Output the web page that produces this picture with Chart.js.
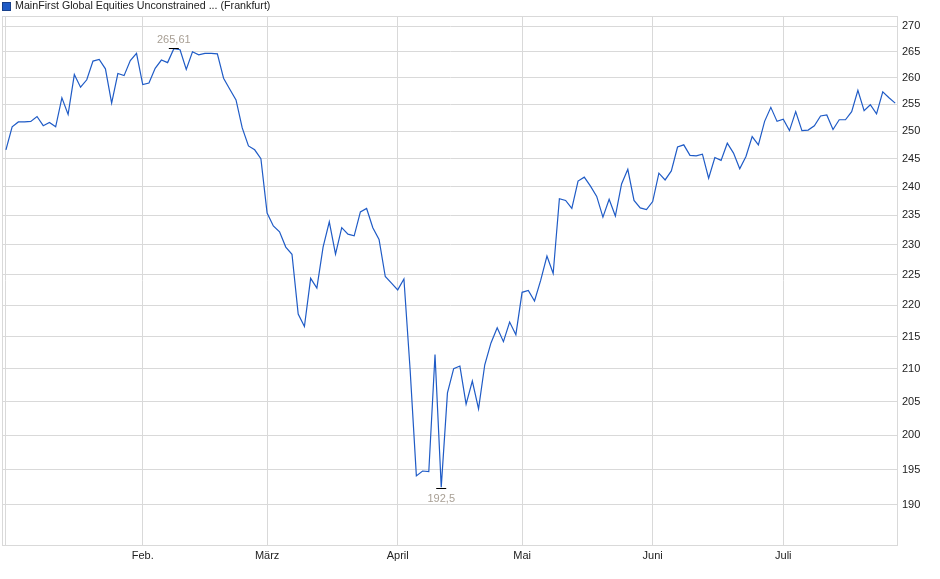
<!DOCTYPE html>
<html lang="de">
<head>
<meta charset="utf-8">
<title>MainFirst Global Equities Unconstrained (Frankfurt)</title>
<script src="https://cdn.jsdelivr.net/npm/chart.js@4.4.1/dist/chart.umd.min.js"></script>
<style>
    html, body { margin: 0; padding: 0; background: #fff; }
    #wrap { position: relative; width: 940px; height: 579px; }
</style>
</head>
<body>
<div id="wrap"><canvas id="priceChart"></canvas></div>
<script>
// Series name shown in the legend line
const seriesName = 'MainFirst Global Equities Unconstrained ... (Frankfurt)';

// Daily closing prices, one per trading day (2 Jan .. 25 Jul)
const prices = [
    246.6, 250.8, 251.7, 251.7, 251.8, 252.7, 251.0, 251.6, 250.8, 256.2,
    253.1, 260.6, 258.2, 259.6, 263.2, 263.5, 261.7, 255.2, 260.8, 260.4,
    263.3, 264.7, 258.7, 259.0, 261.8, 263.4, 262.9, 265.61, 265.4, 261.6,
    265.0, 264.4, 264.7, 264.7, 264.6, 259.9, 257.8, 255.8, 250.6, 247.3,
    246.6, 245.0, 235.4, 233.2, 232.2, 229.6, 228.4, 218.6, 216.6, 224.4,
    222.8, 229.6, 233.9, 228.4, 232.9, 231.8, 231.5, 235.6, 236.2, 232.9,
    230.9, 224.7, 223.6, 222.5, 224.3, 209.8, 194.1, 194.8, 194.7, 212.2,
    192.5, 206.3, 210.0, 210.4, 204.6, 208.1, 203.9, 210.6, 214.0, 216.4,
    214.2, 217.3, 215.3, 222.1, 222.4, 220.7, 224.1, 228.1, 225.2, 237.9,
    237.6, 236.2, 241.0, 241.7, 240.1, 238.3, 234.7, 237.8, 234.9, 240.5,
    243.1, 237.6, 236.3, 236.0, 237.4, 242.4, 241.2, 242.8, 247.1, 247.5,
    245.6, 245.5, 245.8, 241.5, 245.2, 244.7, 247.8, 246.0, 243.2, 245.4,
    249.0, 247.5, 251.8, 254.4, 251.8, 252.2, 250.1, 253.6, 250.1, 250.2,
    251.0, 252.8, 253.0, 250.3, 252.1, 252.1, 253.6, 257.6, 253.8, 254.9,
    253.2, 257.3, 256.2, 255.2
];

// First trading day of each month (index into prices) and its label
const monthStarts = [0, 22, 42, 63, 83, 104, 125];
const monthLabels = ['', 'Feb.', 'März', 'April', 'Mai', 'Juni', 'Juli'];

// Price ticks on the right axis
const priceTicks = [190, 195, 200, 205, 210, 215, 220, 225, 230, 235, 240, 245, 250, 255, 260, 265, 270];

const lineBlue = '#1f5bc6';
const gridGrey = '#d9d9d9';
const textDark = '#222222';
const markerText = '#a89f94';

Chart.defaults.font.family = '"Liberation Sans", Arial, Helvetica, sans-serif';
Chart.defaults.font.size = 11;
Chart.defaults.color = textDark;

// Frame around the plot, legend line on top, high/low markers
const chartDecor = {
    id: 'chartDecor',
    beforeDatasetsDraw(chart) {
        const { ctx, chartArea: a } = chart;
        ctx.save();
        ctx.strokeStyle = gridGrey;
        ctx.lineWidth = 1;
        ctx.strokeRect(Math.round(a.left) - 0.5, Math.round(a.top) + 0.5,
            Math.round(a.right - a.left), Math.round(a.bottom - a.top));
        ctx.restore();
    },
    afterDraw(chart) {
        const { ctx } = chart;
        const xs = chart.scales.x;
        const ys = chart.scales.y;

        // legend
        ctx.save();
        ctx.fillStyle = lineBlue;
        ctx.fillRect(3, 3, 7, 7);
        ctx.strokeStyle = '#173f8a';
        ctx.lineWidth = 1;
        ctx.strokeRect(2.5, 2.5, 8, 8);
        ctx.fillStyle = textDark;
        ctx.font = '10.7px "Liberation Sans", Arial, sans-serif';
        ctx.textBaseline = 'middle';
        ctx.textAlign = 'left';
        ctx.fillText(seriesName, 15, 6.5);

        // high / low
        let hi = 0, lo = 0;
        prices.forEach((v, i) => {
            if (v > prices[hi]) hi = i;
            if (v < prices[lo]) lo = i;
        });
        const fmt = (v) => String(v).replace('.', ',');
        ctx.font = '11px "Liberation Sans", Arial, sans-serif';
        ctx.textAlign = 'center';
        ctx.strokeStyle = '#000';

        const hx = xs.getPixelForValue(hi);
        const hy = Math.round(ys.getPixelForValue(prices[hi])) - 0.5;
        ctx.beginPath();
        ctx.moveTo(hx - 5, hy);
        ctx.lineTo(hx + 5, hy);
        ctx.stroke();
        ctx.fillStyle = markerText;
        ctx.fillText(fmt(prices[hi]), hx, hy - 9);

        const lx = xs.getPixelForValue(lo);
        const ly = Math.round(ys.getPixelForValue(prices[lo])) + 1.5;
        ctx.beginPath();
        ctx.moveTo(lx - 5, ly);
        ctx.lineTo(lx + 5, ly);
        ctx.stroke();
        ctx.fillText(fmt(prices[lo]), lx, ly + 10);
        ctx.restore();
    }
};

const ctx = document.getElementById('priceChart').getContext('2d');

new Chart(ctx, {
    type: 'line',
    data: {
        datasets: [{
            label: seriesName,
            data: prices.map((v, i) => ({ x: i, y: v })),
            borderColor: lineBlue,
            borderWidth: 1.2,
            pointRadius: 0,
            tension: 0,
            fill: false
        }]
    },
    options: {
        responsive: true,
        maintainAspectRatio: false,
        animation: false,
        layout: {
            padding: { top: 16, left: 3, right: 0, bottom: 0 }
        },
        plugins: {
            legend: { display: false },
            tooltip: { enabled: false }
        },
        scales: {
            x: {
                type: 'linear',
                min: -0.47,
                max: 143.45,
                afterBuildTicks: (scale) => {
                    scale.ticks = monthStarts.map((v) => ({ value: v }));
                },
                afterFit: (scale) => {
                    scale.height = 34;
                },
                grid: {
                    color: gridGrey,
                    drawTicks: false
                },
                border: { display: false },
                ticks: {
                    color: textDark,
                    padding: 4,
                    maxRotation: 0,
                    autoSkip: false,
                    callback: (value) => {
                        const k = monthStarts.indexOf(value);
                        return k >= 0 ? monthLabels[k] : '';
                    }
                }
            },
            y: {
                type: 'logarithmic',
                position: 'right',
                min: 184.5,
                max: 272.05,
                afterBuildTicks: (scale) => {
                    scale.ticks = priceTicks.map((v) => ({ value: v }));
                },
                afterFit: (scale) => {
                    scale.width = 42;
                },
                grid: {
                    color: gridGrey,
                    drawTicks: false
                },
                border: { display: false },
                ticks: {
                    color: textDark,
                    padding: 4,
                    autoSkip: false,
                    callback: (value) => String(value)
                }
            }
        }
    },
    plugins: [chartDecor]
});
</script>
</body>
</html>
